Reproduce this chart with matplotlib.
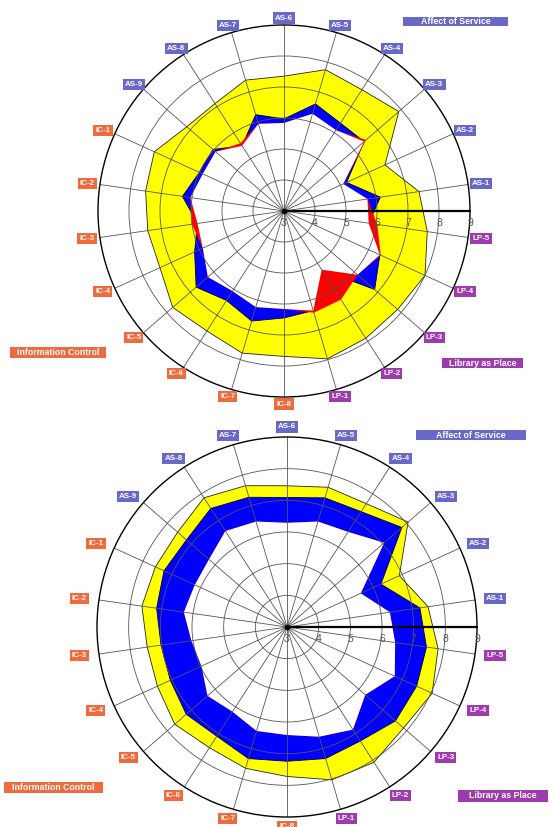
import matplotlib.pyplot as plt
import numpy as np
from matplotlib.patches import Rectangle

plt.rcParams['font.family'] = ['Liberation Sans', 'DejaVu Sans']

items = ['AS-1', 'AS-2', 'AS-3', 'AS-4', 'AS-5', 'AS-6', 'AS-7', 'AS-8', 'AS-9',
         'IC-1', 'IC-2', 'IC-3', 'IC-4', 'IC-5', 'IC-6', 'IC-7', 'IC-8',
         'LP-1', 'LP-2', 'LP-3', 'LP-4', 'LP-5']
ring_ticks = [3, 4, 5, 6, 7, 8, 9]

# top chart
minimum_1 = [5.72, 5.10, 6.50, 6.10, 6.27, 5.84, 5.93, 5.60, 5.92, 5.88, 6.05,
             6.00, 5.88, 6.25, 6.07, 6.23, 6.16, 6.42, 6.40, 6.14, 6.43, 6.04]
perceived_1 = [6.14, 5.22, 6.42, 6.37, 6.60, 5.97, 6.24, 5.50, 6.03, 6.00, 6.31,
               5.82, 6.17, 6.75, 6.43, 6.70, 6.45, 6.35, 5.25, 6.87, 6.40, 5.76]
desired_1 = [7.40, 6.58, 7.90, 7.65, 7.75, 7.35, 7.40, 7.12, 7.15, 7.60, 7.51,
             7.44, 7.40, 7.75, 7.60, 7.78, 7.69, 7.97, 7.88, 7.85, 8.00, 7.67]

# bottom chart
minimum_2 = [6.28, 5.56, 7.06, 6.57, 6.47, 6.29, 6.47, 6.60, 6.26, 6.20, 6.29,
             6.05, 5.97, 6.32, 6.18, 6.42, 6.41, 6.61, 6.85, 6.27, 6.74, 6.45]
perceived_2 = [7.24, 6.26, 7.80, 7.33, 7.25, 7.09, 7.27, 7.45, 7.20, 7.27, 7.16,
               7.02, 7.05, 7.21, 7.10, 7.33, 7.24, 7.33, 7.28, 7.53, 7.50, 7.45]
desired_2 = [7.50, 6.90, 8.06, 7.63, 7.60, 7.46, 7.65, 7.85, 7.57, 7.57, 7.63,
             7.46, 7.50, 7.69, 7.53, 7.65, 7.72, 8.03, 8.08, 7.87, 8.04, 7.82]

group_colors = {'AS': '#6868c8', 'IC': '#ef6a3c', 'LP': '#9f3cad'}
group_names = {'AS': 'Affect of Service', 'IC': 'Information Control', 'LP': 'Library as Place'}

W, H = 553, 827
fig = plt.figure(figsize=(W / 100, H / 100), dpi=100)


def radar(ax, minimum, perceived, desired, lab_rx, lab_ry):
    n = len(items)
    theta = (np.arange(n) + 0.5) * 2 * np.pi / n
    minimum = np.array(minimum)
    perceived = np.array(perceived)
    ax.set_ylim(ring_ticks[0], ring_ticks[-1])

    ax.fill(theta, desired, facecolor='#ffff00', edgecolor='#222222', lw=0.6, zorder=1.0)
    ax.fill(theta, perceived, facecolor='#0000ff', edgecolor='#000044', lw=0.6, zorder=1.1)
    ax.fill(theta, minimum, facecolor='#ff0000', edgecolor='none', zorder=1.2)
    ax.fill(theta, np.minimum(perceived, minimum), facecolor='white', edgecolor='none', zorder=1.3)

    ax.set_xticks(theta)
    ax.set_xticklabels([])
    ax.set_yticks(ring_ticks[1:-1])
    ax.set_yticklabels([])
    ax.grid(color='#555555', lw=0.6)
    ax.spines['polar'].set_color('black')
    ax.spines['polar'].set_linewidth(1.0)

    ax.plot([0, 0], [ring_ticks[0], ring_ticks[-1]], color='black', lw=1.6, zorder=3)
    ax.plot([0], [ring_ticks[0]], 'o', ms=3, color='black', zorder=3)
    for v in ring_ticks:
        ax.annotate(str(v), (0, v), xytext=(0, -5), textcoords='offset points',
                    ha='center', va='top', fontsize=7.5, color='#555555')

    # item labels sit on an ellipse round the outer ring (boxes are wider than tall)
    for t, name in zip(theta, items):
        ax.annotate(name, (t, ring_ticks[0]),
                    xytext=(lab_rx * np.cos(t), lab_ry * np.sin(t)), textcoords='offset pixels',
                    ha='center', va='center', fontsize=5.8, color='white', fontweight='bold',
                    annotation_clip=False,
                    bbox=dict(boxstyle='square,pad=0.25', fc=group_colors[name[:2]], ec='none'))


def group_box(key, x0, y0, x1, y1):
    fig.add_artist(Rectangle((x0 / W, 1 - y1 / H), (x1 - x0) / W, (y1 - y0) / H,
                             transform=fig.transFigure, fc=group_colors[key], ec='none'))
    fig.text((x0 + x1) / 2 / W, 1 - (y0 + y1) / 2 / H, group_names[key], ha='center',
             va='center', fontsize=6.3, color='white', fontweight='bold')


# top: centre (284, 211), radius 186 px
ax1 = fig.add_axes([(284 - 186) / W, (H - 211 - 186) / H, 372 / W, 372 / H], projection='polar')
radar(ax1, minimum_1, perceived_1, desired_1, 199, 193)

# bottom: centre (287, 627), radius 190 px
ax2 = fig.add_axes([(287 - 190) / W, (H - 627 - 190) / H, 380 / W, 380 / H], projection='polar')
radar(ax2, minimum_2, perceived_2, desired_2, 210, 200)

group_box('AS', 403, 17, 508, 26)
group_box('IC', 10, 347, 106, 358)
group_box('LP', 442, 358, 523, 368)
group_box('AS', 416, 430, 526, 440)
group_box('IC', 4, 782, 103, 793)
group_box('LP', 458, 790, 548, 802)

fig.savefig('out.png', dpi=100)
